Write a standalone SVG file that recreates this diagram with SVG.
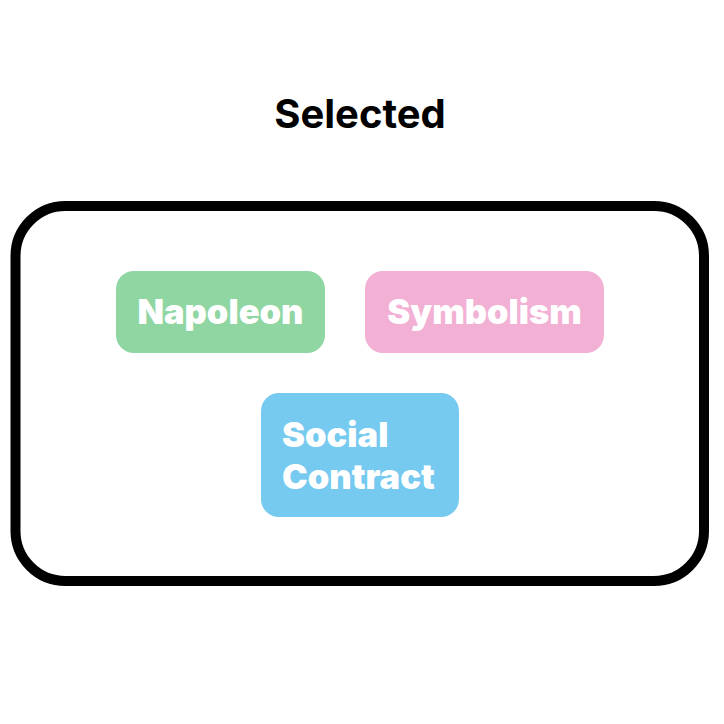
<svg xmlns="http://www.w3.org/2000/svg" width="724" height="724" viewBox="0 0 724 724">
<style>
.title{font-family:Inter,"Liberation Sans",sans-serif;font-weight:700;font-size:40px;fill:#000}
.lbl{font-family:Inter,"Liberation Sans",sans-serif;font-weight:900;font-size:34.5px;fill:#fff}
.frame{fill:#fff;stroke:#000;stroke-width:10}
</style>
<rect width="724" height="724" fill="#fff"/>
<text class="title" x="360" y="128" text-anchor="middle">Selected</text>
<g id="group-selected">
<rect class="frame" x="15.5" y="206" width="688.5" height="375" rx="50" ry="50"/>
</g>
<g id="connectors"></g>
<g id="node-napoleon">
<rect x="116" y="271" width="209" height="82" rx="18" fill="#8fd6a3"/>
<text class="lbl" x="220.5" y="324" text-anchor="middle">Napoleon</text>
</g>
<g id="node-symbolism">
<rect x="365" y="271" width="239" height="82" rx="18" fill="#f2b0d4"/>
<text class="lbl" x="484.5" y="324" text-anchor="middle">Symbolism</text>
</g>
<g id="node-social-contract">
<rect x="261" y="393" width="198" height="124" rx="18" fill="#76c9ef"/>
<text class="lbl" x="282" y="446.5">Social</text>
<text class="lbl" x="282" y="489">Contract</text>
</g>
</svg>
